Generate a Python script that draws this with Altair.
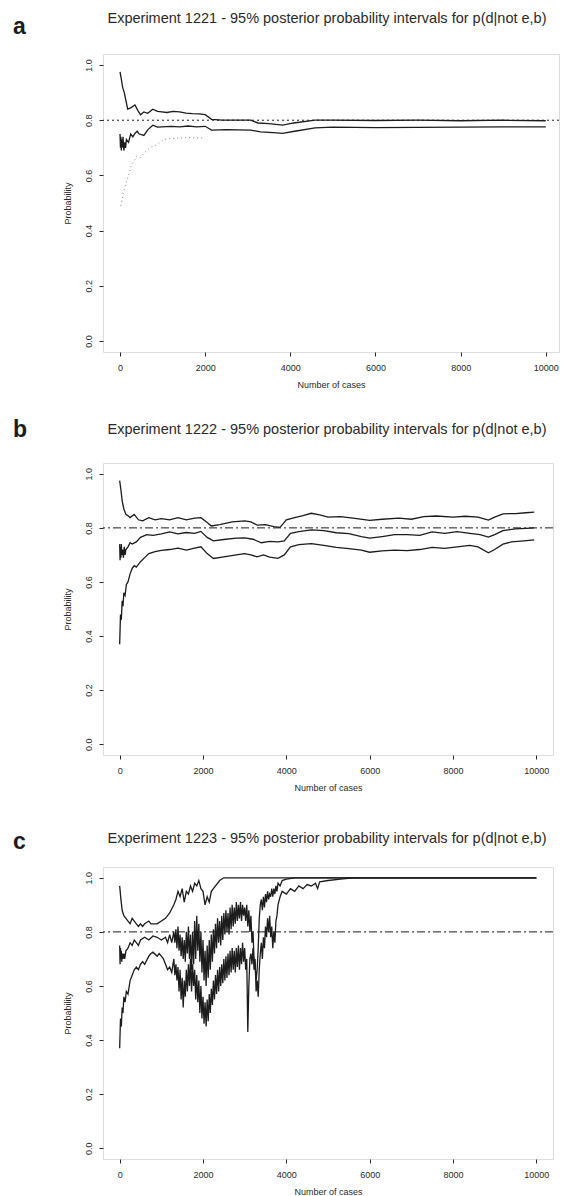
import altair as alt
import pandas as pd

FONT = "Liberation Sans"
INK = "#1c1c1c"
TXT = "#2a2a2a"

X_TICKS = [0, 2000, 4000, 6000, 8000, 10000]
Y_TICKS = [0.0, 0.2, 0.4, 0.6, 0.8, 1.0]
REF_P = 0.8

TITLES = [
    "Experiment 1221 - 95% posterior probability intervals for p(d|not e,b)",
    "Experiment 1222 - 95% posterior probability intervals for p(d|not e,b)",
    "Experiment 1223 - 95% posterior probability intervals for p(d|not e,b)",
]
LETTERS = ["a", "b", "c"]

# ---------------- panel a ----------------
A_UP_X = [0, 30, 60, 100, 140, 180, 250, 350, 420, 480, 560, 650, 770, 880, 980, 1100, 1250, 1400, 1550, 1700, 1850, 2000, 2150, 2400, 2800, 3070, 3240, 3500, 3820, 4080, 4580, 5000, 6000, 7000, 8000, 9000, 10000]
A_UP_Y = [0.975, 0.95, 0.92, 0.90, 0.87, 0.84, 0.845, 0.855, 0.835, 0.82, 0.83, 0.825, 0.84, 0.832, 0.83, 0.828, 0.832, 0.83, 0.826, 0.824, 0.823, 0.82, 0.803, 0.80, 0.80, 0.80, 0.79, 0.788, 0.782, 0.79, 0.80, 0.80, 0.799, 0.80, 0.798, 0.80, 0.798]
A_MID_X = [0, 10, 20, 30, 40, 50, 70, 90, 110, 130, 150, 200, 250, 300, 350, 400, 450, 500, 560, 650, 770, 880, 980, 1200, 1400, 1600, 1800, 2000, 2150, 2500, 3070, 3300, 3600, 3820, 4100, 4580, 5000, 6000, 7000, 8000, 9000, 10000]
A_MID_Y = [0.75, 0.70, 0.74, 0.69, 0.73, 0.70, 0.74, 0.69, 0.72, 0.70, 0.73, 0.72, 0.75, 0.74, 0.752, 0.76, 0.75, 0.748, 0.745, 0.765, 0.782, 0.775, 0.776, 0.778, 0.776, 0.779, 0.776, 0.778, 0.764, 0.766, 0.764, 0.758, 0.755, 0.752, 0.76, 0.772, 0.775, 0.773, 0.774, 0.775, 0.776, 0.776]
A_LOW_X = [20, 80, 140, 200, 270, 330, 390, 480, 560, 700, 850, 1020, 1310, 1600, 2000]
A_LOW_Y = [0.49, 0.54, 0.57, 0.60, 0.64, 0.65, 0.67, 0.665, 0.68, 0.70, 0.71, 0.73, 0.735, 0.737, 0.735]

# ---------------- panel b ----------------
B_UP_X = [0, 30, 60, 100, 150, 200, 250, 350, 450, 550, 700, 850, 1000, 1200, 1400, 1600, 1800, 1950, 2100, 2200, 2400, 2700, 3000, 3150, 3300, 3500, 3700, 3850, 4000, 4200, 4400, 4600, 4800, 5000, 5300, 5600, 6000, 6300, 6700, 7000, 7300, 7600, 8000, 8300, 8600, 8850, 9000, 9200, 9500, 9750, 9950]
B_UP_Y = [0.975, 0.94, 0.90, 0.87, 0.85, 0.845, 0.838, 0.85, 0.83, 0.826, 0.838, 0.83, 0.834, 0.83, 0.838, 0.83, 0.836, 0.838, 0.82, 0.807, 0.812, 0.822, 0.826, 0.822, 0.81, 0.812, 0.805, 0.802, 0.83, 0.838, 0.845, 0.854, 0.848, 0.84, 0.842, 0.836, 0.828, 0.832, 0.836, 0.832, 0.842, 0.844, 0.84, 0.843, 0.84, 0.829, 0.84, 0.852, 0.853, 0.856, 0.858]
B_MID_X = [0, 10, 20, 30, 40, 50, 70, 90, 110, 130, 150, 200, 250, 300, 400, 500, 650, 800, 1000, 1200, 1400, 1600, 1800, 1950, 2100, 2250, 2500, 2800, 3000, 3200, 3400, 3600, 3800, 3950, 4100, 4300, 4600, 4900, 5200, 5500, 5800, 6000, 6300, 6600, 6900, 7200, 7500, 7800, 8100, 8400, 8650, 8850, 9000, 9200, 9500, 9750, 9950]
B_MID_Y = [0.74, 0.68, 0.73, 0.69, 0.74, 0.70, 0.72, 0.69, 0.73, 0.70, 0.72, 0.73, 0.745, 0.74, 0.748, 0.765, 0.775, 0.772, 0.778, 0.785, 0.778, 0.783, 0.78, 0.787, 0.765, 0.752, 0.757, 0.762, 0.763, 0.758, 0.745, 0.75, 0.748, 0.752, 0.78, 0.786, 0.793, 0.79, 0.782, 0.779, 0.768, 0.762, 0.768, 0.775, 0.775, 0.772, 0.785, 0.78, 0.786, 0.78, 0.775, 0.766, 0.775, 0.79, 0.796, 0.798, 0.80]
B_LOW_X = [0, 20, 40, 60, 80, 100, 130, 160, 200, 250, 300, 350, 400, 500, 600, 700, 850, 1000, 1200, 1400, 1600, 1800, 1950, 2100, 2250, 2500, 2800, 3000, 3150, 3300, 3450, 3600, 3800, 3950, 4100, 4300, 4600, 4900, 5200, 5500, 5800, 6000, 6300, 6600, 6900, 7200, 7500, 7800, 8100, 8400, 8600, 8850, 9000, 9200, 9400, 9700, 9950]
B_LOW_Y = [0.37, 0.48, 0.46, 0.53, 0.51, 0.56, 0.55, 0.59, 0.60, 0.63, 0.65, 0.66, 0.655, 0.675, 0.69, 0.705, 0.712, 0.717, 0.72, 0.725, 0.718, 0.725, 0.73, 0.705, 0.687, 0.693, 0.7, 0.705, 0.70, 0.693, 0.70, 0.692, 0.687, 0.70, 0.73, 0.738, 0.742, 0.735, 0.728, 0.723, 0.718, 0.71, 0.715, 0.718, 0.716, 0.72, 0.728, 0.724, 0.73, 0.735, 0.73, 0.708, 0.72, 0.74, 0.748, 0.752, 0.756]

# ---------------- panel c ----------------
C_UP_X = [0, 30, 60, 100, 150, 200, 250, 300, 350, 400, 450, 500, 550, 600, 700, 750, 800, 900, 1000, 1100, 1200, 1300, 1350, 1400, 1450, 1500, 1550, 1600, 1650, 1700, 1750, 1800, 1850, 1900, 1950, 2000, 2050, 2100, 2150, 2200, 2300, 2400, 2500, 10000]
C_UP_Y = [0.97, 0.92, 0.88, 0.86, 0.85, 0.84, 0.83, 0.85, 0.84, 0.83, 0.82, 0.83, 0.82, 0.83, 0.84, 0.83, 0.83, 0.83, 0.84, 0.85, 0.87, 0.90, 0.92, 0.95, 0.93, 0.96, 0.91, 0.95, 0.94, 0.97, 0.95, 0.98, 0.97, 0.99, 0.96, 0.95, 0.90, 0.93, 0.91, 0.95, 0.97, 0.99, 1.0, 1.0]
C_MID_X = [0, 10, 20, 30, 40, 50, 60, 80, 100, 120, 150, 200, 250, 300, 350, 400, 450, 500, 600, 700, 800, 900, 1000, 1100, 1150, 1200, 1250,
           1300, 1325, 1350, 1375, 1400, 1425, 1450, 1475, 1500, 1525, 1550, 1575, 1600, 1625, 1650, 1675, 1700, 1725, 1750, 1775, 1800, 1825, 1850, 1875, 1900, 1925, 1950, 1975,
           2000, 2025, 2050, 2075, 2100, 2125, 2150, 2175, 2200, 2225, 2250, 2275, 2300, 2325, 2350, 2375, 2400, 2425, 2450, 2475, 2500, 2525, 2550, 2575, 2600, 2625, 2650, 2675,
           2700, 2725, 2750, 2775, 2800, 2825, 2850, 2875, 2900, 2925, 2950, 2975, 3000, 3025, 3050, 3075, 3100, 3125, 3150, 3175, 3200, 3225, 3250, 3275, 3300, 3325, 3350, 3375,
           3400, 3425, 3450, 3475, 3500, 3525, 3550, 3575, 3600, 3625, 3650, 3675, 3700, 3725, 3750, 3775, 3800, 3850, 3900, 4000, 4200, 10000]
C_MID_Y = [0.75, 0.68, 0.74, 0.70, 0.73, 0.69, 0.72, 0.70, 0.72, 0.70, 0.73, 0.74, 0.76, 0.75, 0.77, 0.76, 0.75, 0.77, 0.78, 0.77, 0.785, 0.78, 0.77, 0.78, 0.76, 0.79, 0.76,
           0.80, 0.76, 0.81, 0.74, 0.82, 0.73, 0.79, 0.71, 0.78, 0.70, 0.77, 0.69, 0.80, 0.72, 0.82, 0.70, 0.79, 0.66, 0.80, 0.68, 0.84, 0.70, 0.86, 0.73, 0.83, 0.69, 0.80, 0.65,
           0.77, 0.62, 0.73, 0.60, 0.75, 0.63, 0.77, 0.66, 0.79, 0.69, 0.81, 0.72, 0.83, 0.74, 0.85, 0.76, 0.84, 0.75, 0.86, 0.77, 0.87, 0.79, 0.88, 0.80, 0.87, 0.79, 0.89, 0.81,
           0.90, 0.82, 0.89, 0.83, 0.91, 0.84, 0.90, 0.85, 0.91, 0.84, 0.90, 0.86, 0.89, 0.84, 0.90, 0.82, 0.88, 0.80, 0.86, 0.76, 0.80, 0.70, 0.68, 0.62, 0.66, 0.74, 0.85, 0.90,
           0.92, 0.88, 0.93, 0.89, 0.94, 0.91, 0.95, 0.92, 0.94, 0.93, 0.96, 0.93, 0.96, 0.94, 0.97, 0.95, 0.98, 0.97, 0.99, 0.995, 1.0, 1.0]
C_LOW_X = [0, 20, 40, 60, 80, 100, 130, 160, 200, 250, 300, 350, 400, 450, 500, 550, 600, 700, 750, 800, 900, 950, 1000, 1050, 1100, 1150, 1200, 1250,
           1300, 1325, 1350, 1375, 1400, 1425, 1450, 1475, 1500, 1525, 1550, 1575, 1600, 1625, 1650, 1675, 1700, 1725, 1750, 1775, 1800, 1825, 1850, 1875, 1900, 1925, 1950, 1975,
           2000, 2025, 2050, 2075, 2100, 2125, 2150, 2175, 2200, 2225, 2250, 2275, 2300, 2325, 2350, 2375, 2400, 2425, 2450, 2475, 2500, 2525, 2550, 2575, 2600, 2625, 2650, 2675,
           2700, 2725, 2750, 2775, 2800, 2825, 2850, 2875, 2900, 2925, 2950, 2975, 3000, 3025, 3050, 3075, 3100, 3125, 3150, 3175, 3200, 3225, 3250, 3275, 3300, 3325, 3350, 3375,
           3400, 3425, 3450, 3475, 3500, 3525, 3550, 3575, 3600, 3625, 3650, 3675, 3700, 3725, 3750, 3775, 3800, 3850, 3900, 4000, 4100, 4200, 4300, 4400, 4500, 4600, 4700, 4750,
           4800, 5000, 5300, 5600, 10000]
C_LOW_Y = [0.37, 0.48, 0.45, 0.52, 0.50, 0.56, 0.54, 0.58, 0.57, 0.62, 0.64, 0.66, 0.67, 0.66, 0.68, 0.69, 0.68, 0.71, 0.72, 0.725, 0.71, 0.72, 0.71, 0.70, 0.68, 0.66, 0.67, 0.65,
           0.70, 0.64, 0.68, 0.62, 0.67, 0.58, 0.66, 0.55, 0.63, 0.52, 0.62, 0.56, 0.66, 0.58, 0.68, 0.60, 0.70, 0.58, 0.68, 0.60, 0.66, 0.55, 0.64, 0.54, 0.62, 0.50, 0.60, 0.48,
           0.56, 0.46, 0.54, 0.45, 0.55, 0.47, 0.57, 0.50, 0.59, 0.53, 0.62, 0.55, 0.64, 0.57, 0.66, 0.58, 0.67, 0.60, 0.68, 0.61, 0.70, 0.62, 0.71, 0.63, 0.72, 0.64, 0.73, 0.65,
           0.74, 0.66, 0.73, 0.65, 0.74, 0.67, 0.75, 0.66, 0.74, 0.68, 0.76, 0.69, 0.74, 0.66, 0.70, 0.43, 0.60, 0.70, 0.72, 0.68, 0.74, 0.66, 0.70, 0.58, 0.62, 0.56, 0.66, 0.72,
           0.76, 0.70, 0.78, 0.74, 0.82, 0.78, 0.85, 0.80, 0.86, 0.78, 0.82, 0.74, 0.80, 0.76, 0.84, 0.86, 0.90, 0.93, 0.95, 0.94, 0.96, 0.95, 0.97, 0.96, 0.975, 0.97, 0.98, 0.96,
           0.985, 0.99, 0.995, 1.0, 1.0]


def series_frame(series):
    rows = []
    for name, xs, ys in series:
        for x, y in zip(xs, ys):
            rows.append({"series": name, "cases": x, "p": y})
    return pd.DataFrame(rows)


YSC = alt.Scale(domain=[-0.04, 1.04], nice=False, zero=False)


def x_axis():
    return alt.Axis(values=X_TICKS, format="d", title="Number of cases", domain=False, grid=False,
                    tickSize=4, tickColor=TXT, labelPadding=7, labelFontSize=9, labelColor=TXT,
                    labelFont=FONT, titleFont=FONT, titleFontSize=9, titleFontWeight="normal",
                    titleColor=TXT, titlePadding=8)


def y_axis():
    return alt.Axis(values=Y_TICKS, format=".1f", title="Probability", domain=False, grid=False,
                    tickSize=4, tickColor=TXT, labelPadding=6, labelFontSize=9, labelColor=TXT,
                    labelAngle=270, labelAlign="center", labelBaseline="bottom",
                    labelFont=FONT, titleFont=FONT, titleFontSize=9, titleFontWeight="normal",
                    titleColor=TXT, titlePadding=12)


def panel(idx, series, faint, dash, width, height, xmax, title_y, letter_y):
    xsc = alt.Scale(domain=[-400, xmax], nice=False, zero=False)
    df = series_frame(series)
    base = alt.Chart(df).mark_line(color=INK, strokeWidth=1.3, clip=True).encode(
        x=alt.X("cases:Q", scale=xsc, axis=x_axis()),
        y=alt.Y("p:Q", scale=YSC, axis=y_axis()),
        detail="series:N",
    )
    layers = [base]
    if faint is not None:
        fdf = series_frame([faint])
        layers.append(
            alt.Chart(fdf).mark_line(color="#8a8a8a", strokeWidth=1, strokeDash=[1, 3], clip=True).encode(
                x=alt.X("cases:Q", scale=xsc), y=alt.Y("p:Q", scale=YSC), detail="series:N")
        )
    ref = alt.Chart(pd.DataFrame({"p": [REF_P]})).mark_rule(
        color=INK, strokeWidth=1, strokeDash=dash).encode(y=alt.Y("p:Q", scale=YSC))
    layers.append(ref)
    heading = alt.Chart(pd.DataFrame({"t": [TITLES[idx]]})).mark_text(
        align="center", baseline="middle", fontSize=14.5, font=FONT, color=TXT
    ).encode(text="t:N", x=alt.value(224), y=alt.value(title_y))
    layers.append(heading)
    letter = alt.Chart(pd.DataFrame({"t": [LETTERS[idx]]})).mark_text(
        align="left", baseline="middle", fontSize=23, fontWeight="bold", font=FONT, color=INK
    ).encode(text="t:N", x=alt.value(-90), y=alt.value(letter_y))
    layers.append(letter)
    return alt.layer(*layers).properties(width=width, height=height)


pa = panel(0, [("upper", A_UP_X, A_UP_Y), ("mid", A_MID_X, A_MID_Y)],
           ("lower", A_LOW_X, A_LOW_Y), [2, 3], 456, 298, 10310, -35, -27)
pb = panel(1, [("upper", B_UP_X, B_UP_Y), ("mid", B_MID_X, B_MID_Y), ("lower", B_LOW_X, B_LOW_Y)],
           None, [8, 3, 2, 3], 450, 292, 10400, -33, -33)
pc = panel(2, [("upper", C_UP_X, C_UP_Y), ("mid", C_MID_X, C_MID_Y), ("lower", C_LOW_X, C_LOW_Y)],
           None, [8, 3, 2, 3], 450, 292, 10400, -28, -25)

chart = alt.vconcat(pa, alt.vconcat(pb, pc, spacing=37), spacing=28).properties(
    padding={"left": 4, "top": 2, "right": 0, "bottom": 0}
).configure_view(stroke=INK, strokeWidth=1).configure(background="white")

chart.save("out.html", embed_options={"renderer": "svg", "actions": False})
